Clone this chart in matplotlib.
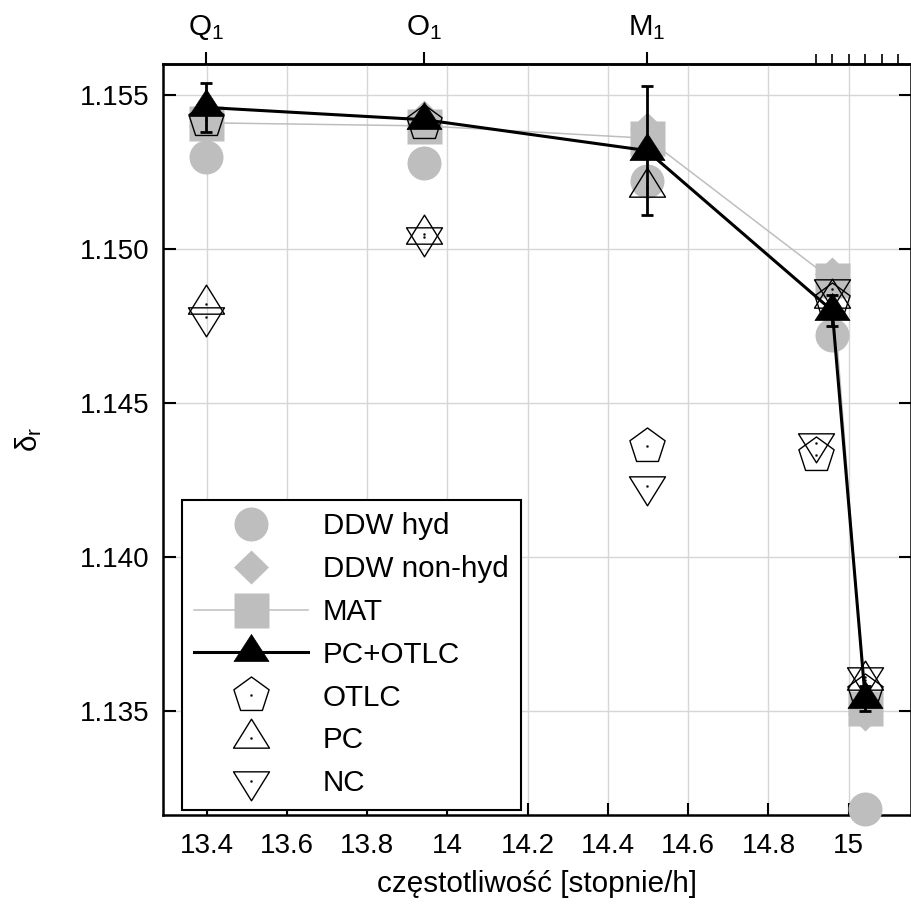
import numpy as np
import matplotlib
matplotlib.use("Agg")
import matplotlib.pyplot as plt
from matplotlib.path import Path

plt.rcParams["font.family"] = ["Liberation Sans", "DejaVu Sans"]
plt.rcParams["font.size"] = 21.3
plt.rcParams["mathtext.default"] = "regular"

DPI = 100
TICK_SIZE = 20

# Diurnal tidal constituents (frequency in deg/h)
wave_freq = [13.3987, 13.9430, 14.4967, 14.9589, 15.0411]        # Q1 O1 M1 P1 K1
top_major_freq = [13.3987, 13.9430, 14.4967]
top_major_labels = ["$\\mathregular{Q_1}$", "$\\mathregular{O_1}$", "$\\mathregular{M_1}$"]
top_minor_freq = [14.9179, 14.9589, 15.0000, 15.0411, 15.0821, 15.1232]

# delta_r factors
ddw_hyd = [1.1530, 1.1528, 1.1522, 1.1472, 1.1318]
ddw_nonhyd = [1.1540, 1.1543, 1.1539, 1.1492, 1.1349]
mat = [1.1541, 1.1540, 1.1536, 1.1490, 1.1351]
pc_otlc = [1.1546, 1.1542, 1.1532, 1.1480, 1.1354]
pc_otlc_err = [0.0008, 0.0002, 0.0021, 0.0005, 0.0004]

otlc_freq = [13.3987, 13.9430, 14.4967, 14.9179, 14.9589, 15.0411]
otlc = [1.1542, 1.1541, 1.1436, 1.1433, 1.1483, 1.1356]
pc_freq = [13.3987, 13.9430, 14.4967, 14.9589, 15.0411]
pc = [1.1482, 1.1505, 1.1520, 1.1484, 1.1360]
nc_freq = [13.3987, 13.9430, 14.4967, 14.9179, 14.9589, 15.0411]
nc = [1.1478, 1.1504, 1.1423, 1.1437, 1.1487, 1.1361]

x_ticks = [13.4, 13.6, 13.8, 14.0, 14.2, 14.4, 14.6, 14.8, 15.0]
x_tick_labels = ["13.4", "13.6", "13.8", "14", "14.2", "14.4", "14.6", "14.8", "15"]
y_ticks = [1.135, 1.140, 1.145, 1.150, 1.155]
y_tick_labels = ["1.135", "1.140", "1.145", "1.150", "1.155"]

GREY = "#bebebe"


def make_marker(verts, dot=False):
    """Closed polygon marker (pixel units, centred on the data point)."""
    verts = [tuple(v) for v in verts]
    pts = verts + [verts[0]]
    codes = [Path.MOVETO] + [Path.LINETO] * (len(verts) - 1) + [Path.CLOSEPOLY]
    if dot:
        d = 0.45
        sq = [(-d, -d), (d, -d), (d, d), (-d, d), (-d, -d)]
        pts += sq
        codes += [Path.MOVETO, Path.LINETO, Path.LINETO, Path.LINETO, Path.CLOSEPOLY]
    m = max(abs(c) for p in verts for c in p)
    ms = 2 * m * 72.0 / DPI
    return Path(pts, codes), ms


def tri(w, h, down=False, dot=False):
    s = -1 if down else 1
    v = [(0, s * 2 * h / 3), (-w / 2, -s * h / 3), (w / 2, -s * h / 3)]
    return make_marker(v, dot)


def pentagon(r, dot=False):
    ang = np.pi / 2 + np.arange(5) * 2 * np.pi / 5
    v = list(zip(r * np.cos(ang), r * np.sin(ang)))
    return make_marker(v, dot)


tri_fill, ms_tri_fill = tri(35, 27)
tri_up, ms_tri_up = tri(36, 29, dot=True)
tri_dn, ms_tri_dn = tri(36, 29, down=True, dot=True)
pent, ms_pent = pentagon(18.5, dot=True)
diam, ms_diam = make_marker([(0, 17), (17.5, 0), (0, -17), (-17.5, 0)])

fig = plt.figure(figsize=(9.12, 9.06), dpi=DPI)
ax = fig.add_axes([163 / 912, (906 - 815) / 906, (911 - 163) / 912, (815 - 64) / 906])

ax.set_xlim(13.2916, 15.1551)
ax.set_ylim(1.13162, 1.15601)

ax.grid(True, color="#d6d6d6", lw=1.0, zorder=0)
ax.set_axisbelow(True)

kw = dict(ls="none", clip_on=False)
ax.plot(wave_freq, ddw_hyd, marker="o", ms=34 * 0.72, mfc=GREY, mec="none",
        label="DDW hyd", zorder=3, **kw)
ax.plot(wave_freq, ddw_nonhyd, marker=diam, ms=ms_diam, mfc=GREY, mec="none",
        label="DDW non-hyd", zorder=3, **kw)
ax.plot(wave_freq, mat, color=GREY, lw=1.1, marker="s", ms=35 * 0.72, mfc=GREY,
        mec="none", label="MAT", zorder=3, clip_on=False)
ax.errorbar(wave_freq, pc_otlc, yerr=pc_otlc_err, fmt="none", ecolor="black",
            elinewidth=2.0, capsize=4.5, capthick=2.0, zorder=4)
ax.plot(wave_freq, pc_otlc, color="black", lw=2.2, marker=tri_fill, ms=ms_tri_fill,
        mfc="black", mec="black", mew=0.5, label="PC+OTLC", zorder=4, clip_on=False)
ax.plot(otlc_freq, otlc, marker=pent, ms=ms_pent, mfc="none", mec="black", mew=1.0,
        label="OTLC", zorder=5, **kw)
ax.plot(pc_freq, pc, marker=tri_up, ms=ms_tri_up, mfc="none", mec="black", mew=1.0,
        label="PC", zorder=5, **kw)
ax.plot(nc_freq, nc, marker=tri_dn, ms=ms_tri_dn, mfc="none", mec="black", mew=1.0,
        label="NC", zorder=5, **kw)

ax.set_xticks(x_ticks)
ax.set_xticklabels(x_tick_labels, fontsize=TICK_SIZE)
ax.set_yticks(y_ticks)
ax.set_yticklabels(y_tick_labels, fontsize=TICK_SIZE)

ax.tick_params(axis="x", which="both", bottom=True, top=False, direction="in",
               length=9, width=1.5, pad=13)
ax.tick_params(axis="y", which="both", left=True, right=True, direction="in",
               length=9, width=1.5, pad=9.5)
for sp in ax.spines.values():
    sp.set_linewidth(1.8)

top = ax.secondary_xaxis("top")
top.set_xticks(top_major_freq)
top.set_xticklabels(top_major_labels)
top.set_xticks(top_minor_freq, minor=True)
top.tick_params(axis="x", which="major", direction="out", length=9, width=1.5, pad=7)
top.tick_params(axis="x", which="minor", direction="out", length=7, width=1.2)
top.spines["top"].set_linewidth(1.8)

ax.set_xlabel("częstotliwość [stopnie/h]", labelpad=8)
ax.set_ylabel("$\\mathregular{δ_r}$", labelpad=26)

leg = ax.legend(loc="upper left", bbox_to_anchor=(182 / 912, (906 - 500) / 906),
                bbox_transform=fig.transFigure, borderaxespad=0, frameon=True,
                fancybox=False, framealpha=1, edgecolor="black", numpoints=1,
                handlelength=3.85, handletextpad=0.5, labelspacing=0.5,
                borderpad=0.42)
leg.get_frame().set_linewidth(1.5)
leg.set_zorder(10)

fig.savefig("out.png", dpi=DPI)
